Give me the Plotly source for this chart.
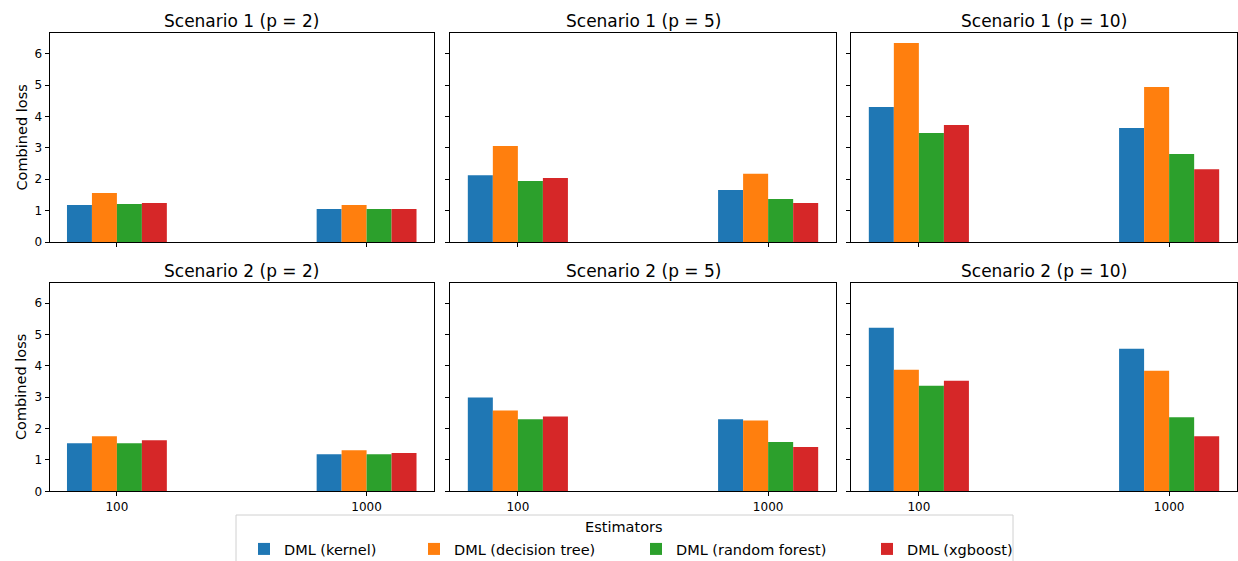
import plotly.graph_objects as go

# ---- data ----
sample_sizes = ["100", "1000"]
estimators = ["DML (kernel)", "DML (decision tree)", "DML (random forest)", "DML (xgboost)"]
colors = ["#1f77b4", "#ff7f0e", "#2ca02c", "#d62728"]
panel_titles = [
    "Scenario 1 (p = 2)", "Scenario 1 (p = 5)", "Scenario 1 (p = 10)",
    "Scenario 2 (p = 2)", "Scenario 2 (p = 5)", "Scenario 2 (p = 10)",
]
# values per panel: [estimator][sample size]
s1_p2 = [[1.18, 1.05], [1.56, 1.18], [1.21, 1.05], [1.24, 1.05]]
s1_p5 = [[2.13, 1.66], [3.06, 2.17], [1.94, 1.37], [2.04, 1.24]]
s1_p10 = [[4.30, 3.63], [6.34, 4.94], [3.47, 2.80], [3.73, 2.32]]
s2_p2 = [[1.53, 1.18], [1.76, 1.31], [1.53, 1.18], [1.63, 1.22]]
s2_p5 = [[2.99, 2.30], [2.58, 2.26], [2.30, 1.57], [2.39, 1.41]]
s2_p10 = [[5.22, 4.55], [3.88, 3.85], [3.37, 2.36], [3.53, 1.76]]
panels = [s1_p2, s1_p5, s1_p10, s2_p2, s2_p5, s2_p10]

W, H = 1238, 561
col_px = [(49.5, 434), (450.3, 835.7), (851.3, 1236.7)]
row_px = [(33, 242), (282.7, 491.3)]
legend_item_px = [244, 414, 636, 867]

ymax = max(max(max(v) for v in p) for p in panels) * 1.05

fig = go.Figure()
layout = dict(
    template="none",
    width=W, height=H, margin=dict(l=0, r=0, t=0, b=0, autoexpand=False),
    paper_bgcolor="white", plot_bgcolor="white",
    font=dict(family="DejaVu Sans", color="black"),
    barmode="group", bargap=0.6, bargroupgap=0,
    showlegend=True,
)
annotations = []
xpos = [0, 1]
legend_names = ["legend", "legend2", "legend3", "legend4"]
for i, data in enumerate(panels):
    r, c = divmod(i, 3)
    n = i + 1
    xa = "x" if n == 1 else f"x{n}"
    ya = "y" if n == 1 else f"y{n}"
    for k, est in enumerate(estimators):
        fig.add_trace(go.Bar(
            x=xpos, y=data[k], name=est, marker=dict(color=colors[k], line=dict(width=0)),
            xaxis=xa, yaxis=ya, showlegend=(i == 0), legendgroup=est,
            legend=legend_names[k], hoverinfo="skip",
        ))
    x0, x1 = col_px[c]
    y0, y1 = row_px[r]
    axis_common = dict(showline=True, mirror=True, linecolor="black", linewidth=1,
                       ticks="outside", ticklen=4, tickwidth=1, tickcolor="black",
                       showgrid=False, zeroline=False, tickfont=dict(size=12),
                       automargin=False, fixedrange=True)
    layout["xaxis" if n == 1 else f"xaxis{n}"] = dict(
        domain=[x0 / W, x1 / W], anchor=ya, range=[-0.27, 1.27],
        tickvals=xpos, ticktext=sample_sizes if r == 1 else ["", ""], **axis_common)
    layout["yaxis" if n == 1 else f"yaxis{n}"] = dict(
        domain=[1 - y1 / H, 1 - y0 / H], anchor=xa, range=[0, ymax],
        tickvals=[0, 1, 2, 3, 4, 5, 6],
        ticktext=[str(v) for v in range(7)] if c == 0 else [""] * 7, **axis_common)
    annotations.append(dict(
        text=panel_titles[i], xref="paper", yref="paper",
        x=(x0 + x1) / 2 / W, y=1 - y0 / H, xanchor="center", yanchor="bottom",
        yshift=0, showarrow=False, font=dict(size=17)))
    if c == 0:
        annotations.append(dict(
            text="Combined loss", xref="paper", yref="paper",
            x=21 / W, y=1 - (y0 + y1) / 2 / H, xanchor="center", yanchor="middle",
            textangle=-90, showarrow=False, font=dict(size=14.5)))

# legend title
annotations.append(dict(
    text="Estimators", xref="paper", yref="paper", x=624.5 / W, y=1 - 527 / H,
    xanchor="center", yanchor="middle", showarrow=False, font=dict(size=14.5)))
layout["annotations"] = annotations
layout["shapes"] = [dict(
    type="rect", xref="paper", yref="paper", x0=236 / W, x1=1013 / W,
    y0=1 - 575 / H, y1=1 - 515 / H, line=dict(color="#d0d0d0", width=1),
    fillcolor="rgba(255,255,255,0.8)", layer="above")]
for k, ln in enumerate(legend_names):
    layout[ln] = dict(
        orientation="h", x=legend_item_px[k] / W, xanchor="left",
        y=1 - 549 / H, yanchor="middle", bgcolor="rgba(0,0,0,0)", borderwidth=0,
        font=dict(size=14.5), itemclick=False, itemdoubleclick=False)
fig.update_layout(**layout)
fig.write_html(
    "out.html",
    config={"displayModeBar": False},
    post_script="document.body.style.margin='0';document.body.style.padding='0';"
                "document.body.style.overflow='hidden';",
)
